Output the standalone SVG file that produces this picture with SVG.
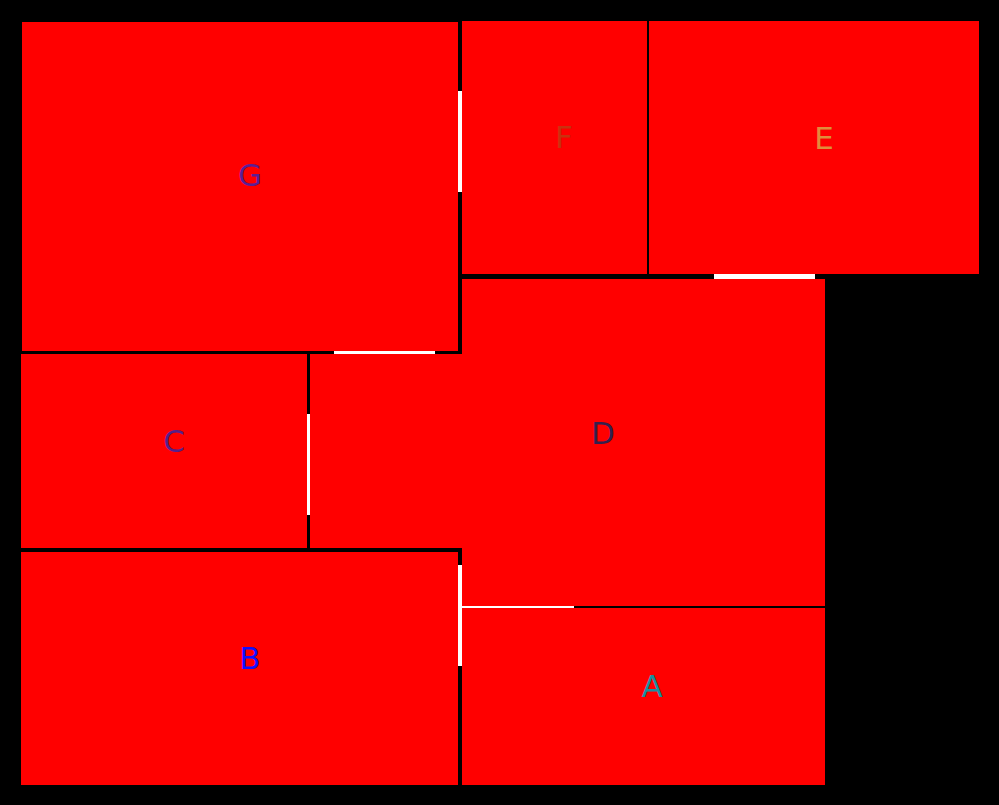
<svg xmlns="http://www.w3.org/2000/svg" width="999" height="805" viewBox="0 0 999 805">
<style>
.room{fill:#ff0000}
.door{fill:#ffffff}
.lbl{font-family:"DejaVu Sans","Liberation Sans",sans-serif;font-size:31px;text-anchor:middle}
</style>
<rect x="0" y="0" width="999" height="805" fill="#000000"/>
<g id="room-G"><rect class="room" x="22" y="22" width="436" height="329"/><text class="lbl" x="250" y="186" fill="#5a1f96">G</text></g>
<g id="room-F"><rect class="room" x="462" y="21" width="185" height="253"/><text class="lbl" x="564" y="148" fill="#c8320f">F</text></g>
<g id="room-E"><rect class="room" x="649" y="21" width="330" height="253"/><text class="lbl" x="824" y="149" fill="#e08c3c">E</text></g>
<g id="room-D"><polygon class="room" points="462,279 825,279 825,606 462,606 462,548 310,548 310,354 462,354"/><text class="lbl" x="603" y="444" fill="#33204f">D</text></g>
<g id="room-C"><rect class="room" x="21" y="354" width="286" height="194"/><text class="lbl" x="174" y="452" fill="#55208a">C</text></g>
<g id="room-B"><rect class="room" x="21" y="552" width="437" height="233"/><text class="lbl" x="250" y="669" fill="#1010ff">B</text></g>
<g id="room-A"><rect class="room" x="462" y="608" width="363" height="177"/><text class="lbl" x="652" y="697" fill="#1a8fa0">A</text></g>
<g id="doors">
<rect class="door" x="458" y="91" width="4" height="101"/>
<rect class="door" x="714" y="274" width="101" height="5"/>
<rect class="door" x="334" y="351" width="101" height="3"/>
<rect class="door" x="307" y="414" width="3" height="101"/>
<rect class="door" x="458" y="565" width="4" height="101"/>
<rect class="door" x="462" y="606" width="112" height="2"/>
</g>
</svg>
